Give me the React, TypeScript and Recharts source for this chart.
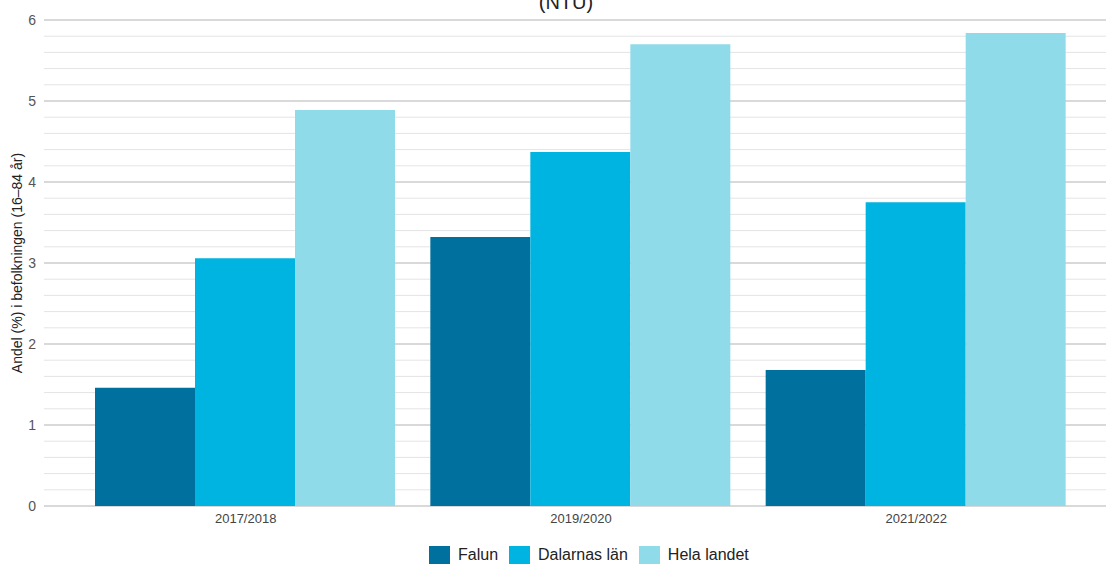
import { BarChart, Bar, XAxis, YAxis, CartesianGrid, Legend } from 'recharts'

document.body.style.margin = '0'

const PERIODS = ['2017/2018', '2019/2020', '2021/2022']
const FALUN = [1.46, 3.32, 1.68]
const DALARNA = [3.06, 4.37, 3.75]
const HELA = [4.89, 5.70, 5.84]
// grid every 0.2, labels only on whole numbers
const Y_TICKS = [0, 0.2, 0.4, 0.6, 0.8, 1, 1.2, 1.4, 1.6, 1.8, 2, 2.2, 2.4, 2.6, 2.8, 3,
  3.2, 3.4, 3.6, 3.8, 4, 4.2, 4.4, 4.6, 4.8, 5, 5.2, 5.4, 5.6, 5.8, 6]

const SERIES = [
  { key: 'Falun', color: '#00719f' },
  { key: 'Dalarnas län', color: '#00b4e1' },
  { key: 'Hela landet', color: '#8fdbea' },
]

const data = PERIODS.map((p, i) => ({
  name: p,
  'Falun': FALUN[i],
  'Dalarnas län': DALARNA[i],
  'Hela landet': HELA[i],
}))

const FONT = '"Liberation Sans", Arial, sans-serif'

function GridLine(props: any) {
  const major = props.index % 5 === 0
  return (
    <line x1={props.x1} y1={props.y1} x2={props.x2} y2={props.y2}
      stroke={major ? '#cccccc' : '#e4e4e4'} strokeWidth={major ? 1.5 : 1} fill="none" />
  )
}

function LegendContent() {
  return (
    <div style={{ display: 'flex', alignItems: 'center', fontFamily: FONT, fontSize: 16, color: '#222' }}>
      {SERIES.map(s => (
        <div key={s.key} style={{ display: 'flex', alignItems: 'center', marginRight: 11 }}>
          <span style={{ width: 21, height: 18, background: s.color, display: 'inline-block', marginRight: 8 }} />
          <span>{s.key}</span>
        </div>
      ))}
    </div>
  )
}

export default function App() {
  return (
    <div style={{ position: 'relative', width: 1106, height: 565, overflow: 'hidden', background: '#fff', fontFamily: FONT }}>
      <div style={{ position: 'absolute', left: 566, top: -8, transform: 'translateX(-50%)', fontSize: 20, lineHeight: '20px', color: '#222', whiteSpace: 'nowrap' }}>
        (NTU)
      </div>
      <BarChart width={1106} height={565} data={data} margin={{ top: 20, right: 0, bottom: 29, left: 0 }}
        barCategoryGap={17} barGap={0}>
        <CartesianGrid vertical={false} horizontal={(p: any) => <GridLine key={p.key} {...p} />} />
        <XAxis dataKey="name" axisLine={false} tickLine={false} height={30} padding={{ left: 34, right: 22 }}
          tick={{ fill: '#444', fontSize: 13, fontFamily: FONT }} interval={0} />
        <YAxis domain={[0, 6]} ticks={Y_TICKS} interval={0} width={44} axisLine={false} tickLine={false}
          tickFormatter={(v: number) => (Number.isInteger(v) ? String(v) : '')}
          tick={{ fill: '#555', fontSize: 14, fontFamily: FONT }}
          label={{ value: 'Andel (%) i befolkningen (16–84 år)', angle: -90, position: 'insideLeft', offset: 17, style: { textAnchor: 'middle', fill: '#222', fontSize: 14, fontFamily: FONT } }} />
        <Legend layout="horizontal" verticalAlign="middle" align="center" content={<LegendContent />}
          wrapperStyle={{ position: 'absolute', top: 546, left: 429, width: 'auto', height: 18 }} />
        {SERIES.map(s => (
          <Bar key={s.key} dataKey={s.key} fill={s.color} isAnimationActive={false} />
        ))}
      </BarChart>
    </div>
  )
}
